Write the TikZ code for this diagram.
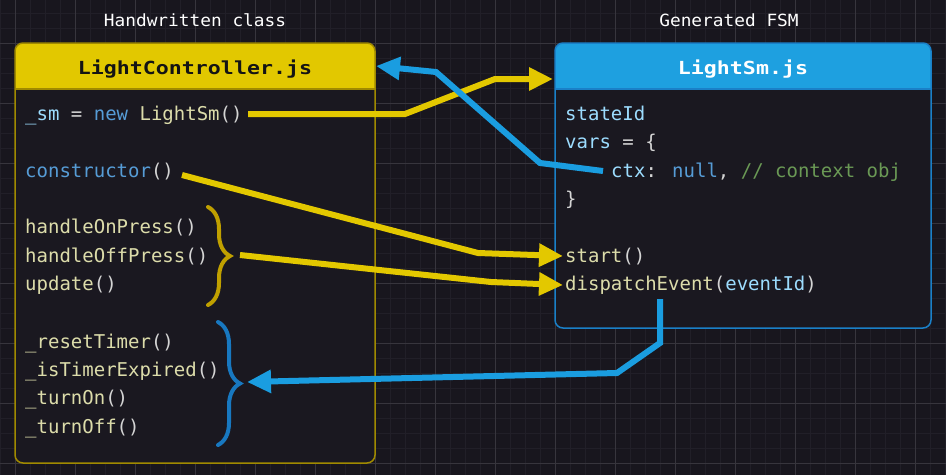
\documentclass[tikz,border=0pt]{standalone}
\usepackage{fontspec}
\setmonofont{DejaVu Sans Mono}
\newfontfamily\codefont{DejaVu Sans Mono}
\newfontfamily\hdrfont[FakeStretch=1.2]{DejaVu Sans Mono}
\newfontfamily\titlefont[FakeStretch=1.06]{DejaVu Sans Mono}
\usetikzlibrary{arrows.meta,decorations.pathreplacing}
\definecolor{bgc}{HTML}{18161E}
\definecolor{boxbg}{HTML}{1A1820}
\definecolor{gridminor}{HTML}{211F28}
\definecolor{gridmajor}{HTML}{37353D}
\definecolor{hdryellow}{HTML}{E2C800}
\definecolor{hdrblue}{HTML}{1EA0E0}
\definecolor{borderyellow}{HTML}{A08A00}
\definecolor{borderblue}{HTML}{1A80C8}
\definecolor{arrowyellow}{HTML}{E3C800}
\definecolor{arrowblue}{HTML}{1A9DE0}
\definecolor{braceyellow}{HTML}{C0A000}
\definecolor{braceblue}{HTML}{1878C0}
\definecolor{cvar}{HTML}{9CDCFE}
\definecolor{ckw}{HTML}{569CD6}
\definecolor{cfn}{HTML}{DCDCAA}
\definecolor{cpun}{HTML}{D4D4D4}
\definecolor{ccom}{HTML}{6A9955}
\tikzset{
  code/.style={anchor=base west, inner sep=0pt, text=cpun, font=\codefont\fontsize{19}{19}\selectfont},
  hdrtext/.style={anchor=base, inner sep=0pt, font=\hdrfont\bfseries\fontsize{18}{18}\selectfont},
  titletext/.style={anchor=base, inner sep=0pt, text=white, font=\titlefont\fontsize{16.8}{17}\selectfont},
  yarrow/.style={draw=arrowyellow, line width=6pt, -{Triangle[length=24pt,width=22pt]}},
  barrow/.style={draw=arrowblue, line width=6pt, -{Triangle[length=24pt,width=22pt]}},
  bracestyle/.style={line width=4pt, line cap=round, decorate, decoration={brace, amplitude=22pt}},
}
\begin{document}
\begin{tikzpicture}[x=1pt,y=-1pt]
\fill[bgc] (0,0) rectangle (946,475);
\useasboundingbox (0,0) rectangle (946,475);
% grid
\foreach \x in {0,15,...,945} \draw[gridminor, line width=1pt] (\x,0) -- (\x,475);
\foreach \y in {13,28,...,475} \draw[gridminor, line width=1pt] (0,\y) -- (946,\y);
\foreach \x in {15,75,...,915} \draw[gridmajor, line width=1pt] (\x,0) -- (\x,475);
\foreach \y in {43,103,...,463} \draw[gridmajor, line width=1pt] (0,\y) -- (946,\y);
% left box
\fill[boxbg, rounded corners=8pt] (15,43) rectangle (375,463);
\begin{scope}
  \clip (13,41) rectangle (377,89);
  \fill[hdryellow, rounded corners=8pt] (15,43) rectangle (375,120);
\end{scope}
\draw[borderyellow, line width=1.5pt] (15,89) -- (375,89);
\draw[borderyellow, line width=1.5pt, rounded corners=8pt] (15,43) rectangle (375,463);
% right box
\fill[boxbg, rounded corners=8pt] (555,43) rectangle (931,328);
\begin{scope}
  \clip (553,41) rectangle (933,89);
  \fill[hdrblue, rounded corners=8pt] (555,43) rectangle (931,120);
\end{scope}
\draw[borderblue, line width=1.5pt] (555,89) -- (931,89);
\draw[borderblue, line width=1.5pt, rounded corners=8pt] (555,43) rectangle (931,328);
% titles
\node[titletext] (t1) at (195,26) {Handwritten class};
\node[titletext] (t2) at (729,26) {Generated FSM};
\node[hdrtext, text=black!92] (lch) at (195,74) {LightController.js};
\node[hdrtext, text=white] (smh) at (743,74) {LightSm.js};
% left code
\node[code] (sm) at (25,120.5) {\textcolor{cvar}{\_sm} = \textcolor{ckw}{new} \textcolor{cfn}{LightSm}()};
\node[code] (ctor) at (25,177) {\textcolor{ckw}{constructor}()};
\node[code] (hon) at (25,233.5) {\textcolor{cfn}{handleOnPress}()};
\node[code] (hoff) at (25,262) {\textcolor{cfn}{handleOffPress}()};
\node[code] (upd) at (25,290) {\textcolor{cfn}{update}()};
\node[code] (rst) at (25,348.5) {\textcolor{cfn}{\_resetTimer}()};
\node[code] (ite) at (25,376.5) {\textcolor{cfn}{\_isTimerExpired}()};
\node[code] (ton) at (25,404.5) {\textcolor{cfn}{\_turnOn}()};
\node[code] (toff) at (25,433) {\textcolor{cfn}{\_turnOff}()};
% right code
\node[code] (sid) at (565,120.5) {\textcolor{cvar}{stateId}};
\node[code] (vars) at (565,148.5) {\textcolor{cvar}{vars} = \{};
\node[code] (ctx) at (611,177) {\textcolor{cvar}{ctx}: \textcolor{ckw}{null}, \textcolor{ccom}{// context obj}};
\node[code] (cl) at (565,205) {\}};
\node[code] (start) at (565,262.5) {\textcolor{cfn}{start}()};
\node[code] (disp) at (565,290.5) {\textcolor{cfn}{dispatchEvent}(\textcolor{cvar}{eventId})};
% braces
\draw[braceyellow, bracestyle] (208,207) -- (208,305);
\draw[braceblue, bracestyle] (218,322) -- (218,445);
% connector points
\coordinate (y1s) at (248,114);
\coordinate (y1a) at (405,114);
\coordinate (y1b) at (495,79);
\coordinate (y1e) at (553,79);
\coordinate (y2s) at (182,175);
\coordinate (y2a) at (478,253);
\coordinate (y2e) at (563,256);
\coordinate (y3s) at (240,255);
\coordinate (y3a) at (491,282);
\coordinate (y3e) at (563,285);
\coordinate (b1s) at (603,171);
\coordinate (b1a) at (540,163);
\coordinate (b1b) at (436,72);
\coordinate (b1e) at (376,66);
\coordinate (b2s) at (660,299);
\coordinate (b2a) at (660,343);
\coordinate (b2b) at (617,373);
\coordinate (b2e) at (247,382);
% arrows
\draw[yarrow] (y1s) -- (y1a) -- (y1b) -- (y1e);
\draw[yarrow] (y2s) -- (y2a) -- (y2e);
\draw[yarrow] (y3s) -- (y3a) -- (y3e);
\draw[barrow] (b1s) -- (b1a) -- (b1b) -- (b1e);
\draw[barrow] (b2s) -- (b2a) -- (b2b) -- (b2e);
\end{tikzpicture}
\end{document}
